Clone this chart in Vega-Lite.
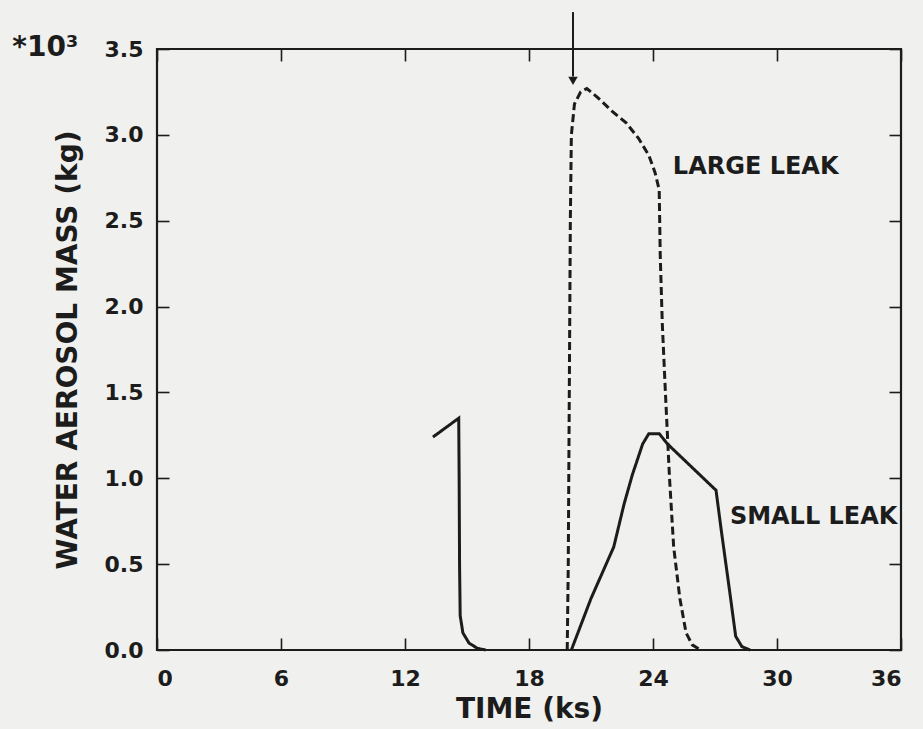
{
  "$schema": "https://vega.github.io/schema/vega-lite/v6.json",
  "width": 744,
  "height": 601,
  "autosize": {"type": "none"},
  "padding": {"left": 157, "top": 49, "right": 22, "bottom": 79},
  "background": "#f0f0ee",
  "config": {
    "view": {"stroke": "#1c1c1c", "strokeWidth": 2.2},
    "font": "DejaVu Sans",
    "axis": {
      "domain": false,
      "grid": false,
      "offset": -12,
      "tickColor": "#1c1c1c",
      "tickWidth": 1.6,
      "tickSize": 12,
      "labelFont": "DejaVu Sans",
      "labelFontWeight": "bold",
      "labelFontSize": 22,
      "labelColor": "#1c1c1c",
      "titleFont": "DejaVu Sans",
      "titleFontWeight": "bold",
      "titleFontSize": 28,
      "titleColor": "#1c1c1c"
    }
  },
  "datasets": {
    "curves": [
      {"piece": "small1", "leak": "SMALL", "t": 13.35, "mass": 1.24},
      {"piece": "small1", "leak": "SMALL", "t": 14.6, "mass": 1.35},
      {"piece": "small1", "leak": "SMALL", "t": 14.62, "mass": 1.0},
      {"piece": "small1", "leak": "SMALL", "t": 14.64, "mass": 0.5},
      {"piece": "small1", "leak": "SMALL", "t": 14.67, "mass": 0.2},
      {"piece": "small1", "leak": "SMALL", "t": 14.8, "mass": 0.1},
      {"piece": "small1", "leak": "SMALL", "t": 15.1, "mass": 0.04},
      {"piece": "small1", "leak": "SMALL", "t": 15.5, "mass": 0.01},
      {"piece": "small1", "leak": "SMALL", "t": 15.9, "mass": 0.0},
      {"piece": "small2", "leak": "SMALL", "t": 20.05, "mass": 0.0},
      {"piece": "small2", "leak": "SMALL", "t": 21.0, "mass": 0.3},
      {"piece": "small2", "leak": "SMALL", "t": 22.1, "mass": 0.6},
      {"piece": "small2", "leak": "SMALL", "t": 22.6, "mass": 0.85},
      {"piece": "small2", "leak": "SMALL", "t": 23.0, "mass": 1.02},
      {"piece": "small2", "leak": "SMALL", "t": 23.5, "mass": 1.2},
      {"piece": "small2", "leak": "SMALL", "t": 23.8, "mass": 1.26},
      {"piece": "small2", "leak": "SMALL", "t": 24.3, "mass": 1.26},
      {"piece": "small2", "leak": "SMALL", "t": 24.7, "mass": 1.2},
      {"piece": "small2", "leak": "SMALL", "t": 27.05, "mass": 0.93},
      {"piece": "small2", "leak": "SMALL", "t": 27.3, "mass": 0.7},
      {"piece": "small2", "leak": "SMALL", "t": 27.7, "mass": 0.35},
      {"piece": "small2", "leak": "SMALL", "t": 28.0, "mass": 0.08},
      {"piece": "small2", "leak": "SMALL", "t": 28.3, "mass": 0.02},
      {"piece": "small2", "leak": "SMALL", "t": 28.7, "mass": 0.0},
      {"piece": "large", "leak": "LARGE", "t": 19.85, "mass": 0.0},
      {"piece": "large", "leak": "LARGE", "t": 19.9, "mass": 0.5},
      {"piece": "large", "leak": "LARGE", "t": 19.95, "mass": 1.5},
      {"piece": "large", "leak": "LARGE", "t": 20.0, "mass": 2.5},
      {"piece": "large", "leak": "LARGE", "t": 20.05, "mass": 3.0},
      {"piece": "large", "leak": "LARGE", "t": 20.2, "mass": 3.18},
      {"piece": "large", "leak": "LARGE", "t": 20.5, "mass": 3.25},
      {"piece": "large", "leak": "LARGE", "t": 20.8, "mass": 3.27},
      {"piece": "large", "leak": "LARGE", "t": 21.3, "mass": 3.22},
      {"piece": "large", "leak": "LARGE", "t": 22.0, "mass": 3.14},
      {"piece": "large", "leak": "LARGE", "t": 22.7, "mass": 3.07},
      {"piece": "large", "leak": "LARGE", "t": 23.3, "mass": 2.98},
      {"piece": "large", "leak": "LARGE", "t": 23.8, "mass": 2.88},
      {"piece": "large", "leak": "LARGE", "t": 24.1, "mass": 2.78},
      {"piece": "large", "leak": "LARGE", "t": 24.3, "mass": 2.68},
      {"piece": "large", "leak": "LARGE", "t": 24.35, "mass": 2.3},
      {"piece": "large", "leak": "LARGE", "t": 24.45, "mass": 1.9},
      {"piece": "large", "leak": "LARGE", "t": 24.6, "mass": 1.5},
      {"piece": "large", "leak": "LARGE", "t": 24.8, "mass": 1.0},
      {"piece": "large", "leak": "LARGE", "t": 25.0, "mass": 0.6},
      {"piece": "large", "leak": "LARGE", "t": 25.3, "mass": 0.3},
      {"piece": "large", "leak": "LARGE", "t": 25.6, "mass": 0.1},
      {"piece": "large", "leak": "LARGE", "t": 25.9, "mass": 0.03},
      {"piece": "large", "leak": "LARGE", "t": 26.3, "mass": 0.0}
    ],
    "arrow": [{"t": 20.13, "top": 3.715, "bottom": 3.34}],
    "arrowhead": [{"t": 20.13, "mass": 3.315}],
    "labels": [
      {"label": "LARGE LEAK", "t": 24.96, "mass": 2.81},
      {"label": "SMALL LEAK", "t": 27.72, "mass": 0.775}
    ],
    "multiplier": [{"label": "*10³", "t": -7.0, "mass": 3.46}]
  },
  "layer": [
    {
      "data": {"name": "curves"},
      "mark": {"type": "line", "color": "#1c1c1c", "strokeWidth": 3},
      "encoding": {
        "x": {
          "field": "t", "type": "quantitative",
          "scale": {"domain": [0, 36], "nice": false, "zero": false},
          "axis": {"orient": "bottom", "values": [0, 6, 12, 18, 24, 30, 36], "title": "TIME (ks)", "labelPadding": 18, "titlePadding": 6}
        },
        "y": {
          "field": "mass", "type": "quantitative",
          "scale": {"domain": [0, 3.5], "nice": false},
          "axis": {"orient": "left", "values": [0, 0.5, 1, 1.5, 2, 2.5, 3, 3.5], "format": ".1f", "title": "WATER AEROSOL MASS (kg)", "labelPadding": 14, "titlePadding": 22}
        },
        "detail": {"field": "piece", "type": "nominal"},
        "strokeDash": {
          "field": "leak", "type": "nominal",
          "scale": {"domain": ["LARGE", "SMALL"], "range": [[8, 4], [1, 0]]},
          "legend": null
        }
      }
    },
    {
      "data": {"name": "arrow"},
      "mark": {"type": "rule", "color": "#1c1c1c", "strokeWidth": 2},
      "encoding": {
        "x": {
          "field": "t", "type": "quantitative",
          "scale": {"domain": [0, 36], "nice": false, "zero": false},
          "axis": {"orient": "top", "values": [0, 6, 12, 18, 24, 30, 36], "labels": false, "title": null}
        },
        "y": {
          "field": "top", "type": "quantitative",
          "scale": {"domain": [0, 3.5], "nice": false},
          "axis": {"orient": "right", "values": [0, 0.5, 1, 1.5, 2, 2.5, 3, 3.5], "labels": false, "title": null}
        },
        "y2": {"field": "bottom"}
      }
    },
    {
      "data": {"name": "arrowhead"},
      "mark": {"type": "point", "shape": "triangle-down", "filled": true, "color": "#1c1c1c", "size": 90, "opacity": 1},
      "encoding": {
        "x": {"field": "t", "type": "quantitative", "scale": {"domain": [0, 36], "nice": false, "zero": false}, "axis": null},
        "y": {"field": "mass", "type": "quantitative", "scale": {"domain": [0, 3.5], "nice": false}, "axis": null}
      }
    },
    {
      "data": {"name": "labels"},
      "mark": {"type": "text", "align": "left", "baseline": "middle", "font": "DejaVu Sans", "fontWeight": "bold", "fontSize": 24, "color": "#1c1c1c"},
      "encoding": {
        "x": {"field": "t", "type": "quantitative", "scale": {"domain": [0, 36], "nice": false, "zero": false}, "axis": null},
        "y": {"field": "mass", "type": "quantitative", "scale": {"domain": [0, 3.5], "nice": false}, "axis": null},
        "text": {"field": "label", "type": "nominal"}
      }
    },
    {
      "data": {"name": "multiplier"},
      "mark": {"type": "text", "align": "left", "baseline": "alphabetic", "font": "DejaVu Sans", "fontWeight": "bold", "fontSize": 28, "color": "#1c1c1c"},
      "encoding": {
        "x": {"field": "t", "type": "quantitative", "scale": {"domain": [0, 36], "nice": false, "zero": false}, "axis": null},
        "y": {"field": "mass", "type": "quantitative", "scale": {"domain": [0, 3.5], "nice": false}, "axis": null},
        "text": {"field": "label", "type": "nominal"}
      }
    }
  ],
  "resolve": {"axis": {"x": "independent", "y": "independent"}}
}
